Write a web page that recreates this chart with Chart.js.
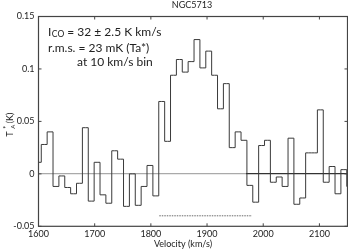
<!DOCTYPE html>
<html>
<head>
<meta charset="utf-8">
<script src="https://cdn.jsdelivr.net/npm/chart.js@4.4.1/dist/chart.umd.min.js"></script>
<style>
  html, body { margin: 0; padding: 0; background: #fff; }
  #wrap { width: 348px; height: 249px; }
</style>
</head>
<body>
<div id="wrap"><canvas id="spectrumChart" width="348" height="249"></canvas></div>
<script>
// ==========================================
// DATOS DEL ESPECTRO
// ==========================================
const velocities = [
  1599.7, 1610.2, 1620.6, 1631.1, 1641.5, 1652.0, 1662.4, 1672.9, 1683.4, 1693.8,
  1704.3, 1714.7, 1725.2, 1735.6, 1746.1, 1756.6, 1767.0, 1777.5, 1787.9, 1798.4,
  1808.8, 1819.3, 1829.8, 1840.2, 1850.7, 1861.1, 1871.6, 1882.1, 1892.5, 1903.0,
  1913.4, 1923.9, 1934.3, 1944.8, 1955.3, 1965.7, 1976.2, 1986.6, 1997.1, 2007.5,
  2018.0, 2028.4, 2038.9, 2049.4, 2059.8, 2070.3, 2080.7, 2091.2, 2101.6, 2112.1,
  2122.6, 2133.0, 2143.5, 2153.9
];
const antennaTemps = [
  0.011, 0.028, 0.040, -0.012, -0.002, -0.013, -0.019, -0.009, 0.044, -0.026,
  0.011, -0.020, -0.028, 0.022, 0.014, -0.031, 0.000, -0.030, -0.012, 0.008,
  -0.021, 0.069, 0.031, 0.094, 0.109, 0.097, 0.107, 0.128, 0.101, 0.117,
  0.094, 0.062, 0.086, 0.025, 0.040, 0.032, -0.011, -0.027, 0.027, 0.032,
  -0.008, -0.003, -0.012, 0.034, -0.029, -0.023, 0.020, 0.020, 0.061, -0.008,
  0.007, -0.019, 0.004, -0.012
];
const xTicks = [1600, 1700, 1800, 1900, 2000, 2100];
const yTicks = [-0.05, 0, 0.05, 0.1, 0.15];
const lineWindow = [1815, 1980];   // rango de la línea (trazo punteado)
const lineWindowLevel = -0.04;
const baselineSwitch = 1969;       // la línea de cero cambia de tono aquí

const FONT = 'Lato, "Liberation Sans", sans-serif';
const INK = '#222';
const AXIS = '#444';

// ==========================================
// PLUGIN: MARCO, TICKS HACIA DENTRO Y TEXTOS
// ==========================================
const framePlugin = {
  id: 'frame',
  afterDraw(chart) {
    const { ctx, chartArea: a, scales } = chart;
    ctx.save();
    ctx.strokeStyle = AXIS;
    ctx.lineWidth = 1.2;
    ctx.strokeRect(a.left, a.top, a.right - a.left, a.bottom - a.top);

    // ticks hacia dentro en los cuatro lados
    ctx.lineWidth = 1;
    ctx.beginPath();
    xTicks.forEach(v => {
      const px = scales.x.getPixelForValue(v);
      ctx.moveTo(px, a.bottom); ctx.lineTo(px, a.bottom - 3);
      ctx.moveTo(px, a.top); ctx.lineTo(px, a.top + 3);
    });
    yTicks.forEach(v => {
      const py = scales.y.getPixelForValue(v);
      ctx.moveTo(a.left, py); ctx.lineTo(a.left + 3, py);
      ctx.moveTo(a.right, py); ctx.lineTo(a.right - 3, py);
    });
    ctx.stroke();

    ctx.fillStyle = INK;
    ctx.textBaseline = 'alphabetic';
    ctx.textAlign = 'left';

    // texto: I_CO = ...
    const big = '12px ' + FONT;
    const small = '8.5px ' + FONT;
    let x = 48;
    ctx.font = big; ctx.fillText('I', x, 36); x += ctx.measureText('I').width + 0.5;
    ctx.font = small; ctx.fillText('CO', x, 36.5); x += ctx.measureText('CO').width;
    ctx.font = big; ctx.fillText(' = 32 ± 2.5 K km/s', x, 36);
    ctx.fillText('r.m.s. = 23 mK (Ta*)', 48, 51.5);
    ctx.fillText('at 10 km/s bin', 77, 66);

    // título y etiqueta del eje X
    ctx.textAlign = 'center';
    ctx.textBaseline = 'middle';
    ctx.font = '9px ' + FONT;
    ctx.fillText('NGC5713', 192, 5.5);
    ctx.fillText('Velocity (km/s)', 183, 244);

    // etiqueta del eje Y: T_A^* (K), rotada
    ctx.translate(10, 126);
    ctx.rotate(-Math.PI / 2);
    const parts = [
      { t: 'T', f: '9px ' + FONT, dy: 0 },
      { t: '*', f: '7px ' + FONT, dy: -3 },
      { t: ' (K)', f: '9px ' + FONT, dy: 0 }
    ];
    ctx.textAlign = 'left';
    let w = 0;
    parts.forEach(p => { ctx.font = p.f; w += ctx.measureText(p.t).width; });
    let cx = -w / 2;
    parts.forEach(p => {
      ctx.font = p.f;
      ctx.fillText(p.t, cx, p.dy);
      if (p.t === 'T') {
        ctx.font = '6px ' + FONT;
        ctx.fillText('A', cx + ctx.measureText('T').width + 4.5, 3);
      }
      cx += ctx.measureText(p.t).width + (p.t === 'T' ? 4.5 : 0);
    });
    ctx.restore();
  }
};

// color de la línea de cero (gris claro a la izquierda, oscuro a la derecha)
const zeroLineColor = (c) => {
  if (c.tick.value !== 0) return 'rgba(0,0,0,0)';
  const chart = c.chart;
  const xs = chart.scales.x;
  if (!xs || !chart.chartArea) return '#888';
  const g = chart.ctx.createLinearGradient(xs.left, 0, xs.right, 0);
  const p = Math.min(1, Math.max(0, (xs.getPixelForValue(baselineSwitch) - xs.left) / (xs.right - xs.left)));
  g.addColorStop(0, '#aaa');
  g.addColorStop(p, '#aaa');
  g.addColorStop(p, '#333');
  g.addColorStop(1, '#333');
  return g;
};

// ==========================================
// GRÁFICO: ESPECTRO CO (HISTOGRAMA ESCALONADO)
// ==========================================
const ctxSpec = document.getElementById('spectrumChart');

new Chart(ctxSpec, {
  type: 'line',
  data: {
    datasets: [
      {
        label: 'T_A*',
        data: velocities.map((v, i) => ({ x: v, y: antennaTemps[i] })),
        stepped: 'middle',
        borderColor: '#3a3a3a',
        borderWidth: 1,
        pointRadius: 0,
        fill: false
      },
      {
        label: 'line window',
        data: lineWindow.map(v => ({ x: v, y: lineWindowLevel })),
        borderColor: '#444',
        borderWidth: 0.8,
        borderDash: [1.5, 1],
        pointRadius: 0,
        fill: false
      }
    ]
  },
  options: {
    responsive: false,
    devicePixelRatio: 1,
    animation: false,
    layout: { padding: { left: 0, top: 16.5, right: 0.5, bottom: 0 } },
    plugins: {
      legend: { display: false },
      tooltip: { enabled: false }
    },
    scales: {
      x: {
        type: 'linear',
        min: 1600,
        max: 2150,
        afterBuildTicks: s => { s.ticks = xTicks.map(v => ({ value: v })); },
        afterFit: s => { s.height = 22.7; },
        grid: { display: false, drawTicks: false },
        border: { display: false },
        ticks: {
          padding: 2,
          color: INK,
          font: { family: FONT, size: 9 },
          maxRotation: 0,
          callback: v => String(v)
        }
      },
      y: {
        min: -0.05,
        max: 0.15,
        afterBuildTicks: s => { s.ticks = yTicks.map(v => ({ value: v })); },
        afterFit: s => { s.width = 38.5; },
        border: { display: false },
        grid: {
          drawTicks: false,
          color: zeroLineColor,
          lineWidth: 1.2
        },
        ticks: {
          padding: 4,
          color: INK,
          font: { family: FONT, size: 9 },
          callback: v => String(v)
        }
      }
    }
  },
  plugins: [framePlugin]
});
</script>
</body>
</html>
